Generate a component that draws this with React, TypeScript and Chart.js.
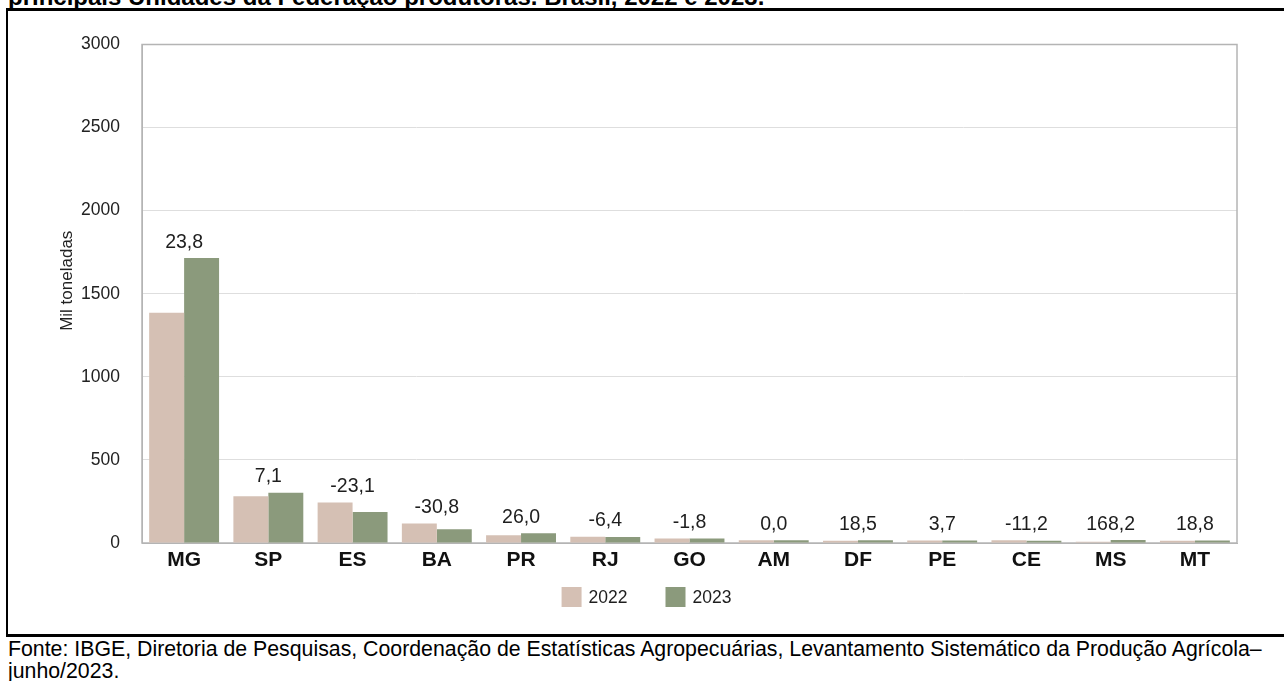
import React, { useEffect, useRef } from 'react';
import { Chart, registerables } from 'chart.js';

Chart.register(...registerables);

const categories = ['MG', 'SP', 'ES', 'BA', 'PR', 'RJ', 'GO', 'AM', 'DF', 'PE', 'CE', 'MS', 'MT'];
const values2022 = [1385, 282, 243, 118, 46, 38, 27, 16, 14, 15, 16, 7, 13];
const values2023 = [1715, 302, 187, 82, 58, 35.5, 26.5, 16, 16.6, 15.6, 14.2, 18, 15.4];
const changeLabels = ['23,8', '7,1', '-23,1', '-30,8', '26,0', '-6,4', '-1,8', '0,0', '18,5', '3,7', '-11,2', '168,2', '18,8'];
const seriesNames = ['2022', '2023'];
const seriesColors = ['#d5c0b4', '#8b9a7c'];
const yAxisTitle = 'Mil toneladas';
const titleText = 'principais Unidades da Federação produtoras. Brasil, 2022 e 2023.';
const footerLine1 = 'Fonte: IBGE, Diretoria de Pesquisas, Coordenação de Estatísticas Agropecuárias, Levantamento Sistemático da Produção Agrícola–';
const footerLine2 = 'junho/2023.';

const FONT = "'Liberation Sans', Arial, sans-serif";

const plotBorder = {
  id: 'plotBorder',
  beforeDatasetsDraw(chart: any) {
    const { ctx, chartArea } = chart;
    ctx.save();
    ctx.strokeStyle = '#b4b4b4';
    ctx.lineWidth = 1.5;
    ctx.strokeRect(chartArea.left, chartArea.top, chartArea.right - chartArea.left, chartArea.bottom - chartArea.top);
    ctx.restore();
  },
};

const groupLabels = {
  id: 'groupLabels',
  afterDatasetsDraw(chart: any) {
    const { ctx } = chart;
    const m0 = chart.getDatasetMeta(0);
    const m1 = chart.getDatasetMeta(1);
    const xs = chart.scales.x;
    ctx.save();
    ctx.font = `19.5px ${FONT}`;
    ctx.fillStyle = '#1e1e1e';
    ctx.textAlign = 'center';
    ctx.textBaseline = 'alphabetic';
    changeLabels.forEach((lab, i) => {
      const top = Math.min(m0.data[i].y, m1.data[i].y);
      const x = xs.getPixelForValue(i);
      ctx.fillText(lab, x, top - 10.5);
    });
    ctx.restore();
  },
};

const yTitle = {
  id: 'yTitle',
  afterDraw(chart: any) {
    const { ctx, chartArea } = chart;
    ctx.save();
    ctx.font = `17px ${FONT}`;
    ctx.fillStyle = '#222';
    ctx.textAlign = 'center';
    ctx.textBaseline = 'middle';
    ctx.translate(59, (chartArea.top + chartArea.bottom) / 2 - 13);
    ctx.rotate(-Math.PI / 2);
    ctx.fillText(yAxisTitle, 0, 0);
    ctx.restore();
  },
};

const customLegend = {
  id: 'customLegend',
  afterDraw(chart: any) {
    const { ctx, width, chartArea } = chart;
    ctx.save();
    ctx.font = `17.5px ${FONT}`;
    const box = 20;
    const gapText = 7;
    const gapItem = 38;
    const widths = seriesNames.map((n) => ctx.measureText(n).width);
    const total = widths.reduce((s, w) => s + box + gapText + w, 0) + gapItem * (seriesNames.length - 1);
    let x = width / 2 - total / 2;
    const yTop = chartArea.bottom + 44;
    ctx.textBaseline = 'middle';
    ctx.textAlign = 'left';
    seriesNames.forEach((n, i) => {
      ctx.fillStyle = seriesColors[i];
      ctx.fillRect(x, yTop, box, box);
      ctx.fillStyle = '#1e1e1e';
      ctx.fillText(n, x + box + gapText, yTop + box / 2 + 1);
      x += box + gapText + widths[i] + gapItem;
    });
    ctx.restore();
  },
};

export default function App() {
  const ref = useRef<HTMLCanvasElement | null>(null);

  useEffect(() => {
    document.body.style.margin = '0';
    const canvas = ref.current!;
    const chart = new Chart(canvas, {
      type: 'bar',
      data: {
        labels: categories,
        datasets: [
          {
            label: seriesNames[0],
            data: values2022,
            backgroundColor: seriesColors[0],
            borderWidth: 0,
            barPercentage: 1.0,
            categoryPercentage: 0.83,
          },
          {
            label: seriesNames[1],
            data: values2023,
            backgroundColor: seriesColors[1],
            borderWidth: 0,
            barPercentage: 1.0,
            categoryPercentage: 0.83,
          },
        ],
      },
      options: {
        responsive: false,
        animation: false,
        layout: { padding: { top: 29, right: 48, bottom: 0, left: 0 } },
        plugins: {
          legend: { display: false },
          tooltip: { enabled: false },
        },
        scales: {
          x: {
            grid: { display: false, drawTicks: false },
            border: { display: true, color: '#b4b4b4' },
            ticks: {
              color: '#111',
              padding: 5,
              font: { family: FONT, size: 21, weight: 'bold' },
            },
            afterFit(scale: any) {
              scale.height = 81;
            },
          },
          y: {
            min: 0,
            max: 3000,
            ticks: {
              stepSize: 500,
              color: '#222',
              padding: 22,
              font: { family: FONT, size: 17.5 },
              callback: (v: any) => String(v),
            },
            grid: { color: '#dedede', drawTicks: false },
            border: { display: true, color: '#b4b4b4' },
            afterFit(scale: any) {
              scale.width = 134;
            },
          },
        },
      },
      plugins: [plotBorder, groupLabels, yTitle, customLegend],
    });
    return () => chart.destroy();
  }, []);

  return (
    <div style={{ position: 'fixed', left: 0, top: 0, width: 1284, height: 681, overflow: 'hidden', background: '#fff', fontFamily: FONT }}>
      <div style={{ position: 'absolute', left: 8, top: -17, whiteSpace: 'nowrap', fontSize: 24, fontWeight: 'bold', color: '#000', lineHeight: '28px' }}>
        {titleText}
      </div>
      <div style={{ position: 'absolute', left: 6, top: 8, width: 1278, height: 3, background: '#000' }} />
      <div style={{ position: 'absolute', left: 6, top: 8, width: 2, height: 629, background: '#000' }} />
      <div style={{ position: 'absolute', left: 6, top: 634, width: 1278, height: 3, background: '#000' }} />
      <div style={{ position: 'absolute', left: 8, top: 12, width: 1277, height: 612 }}>
        <canvas ref={ref} width={1277} height={612} style={{ display: 'block' }} />
      </div>
      <div style={{ position: 'absolute', left: 8, top: 638, whiteSpace: 'nowrap', fontSize: 21.3, color: '#000', lineHeight: '22px' }}>
        <div>{footerLine1}</div>
        <div>{footerLine2}</div>
      </div>
    </div>
  );
}
